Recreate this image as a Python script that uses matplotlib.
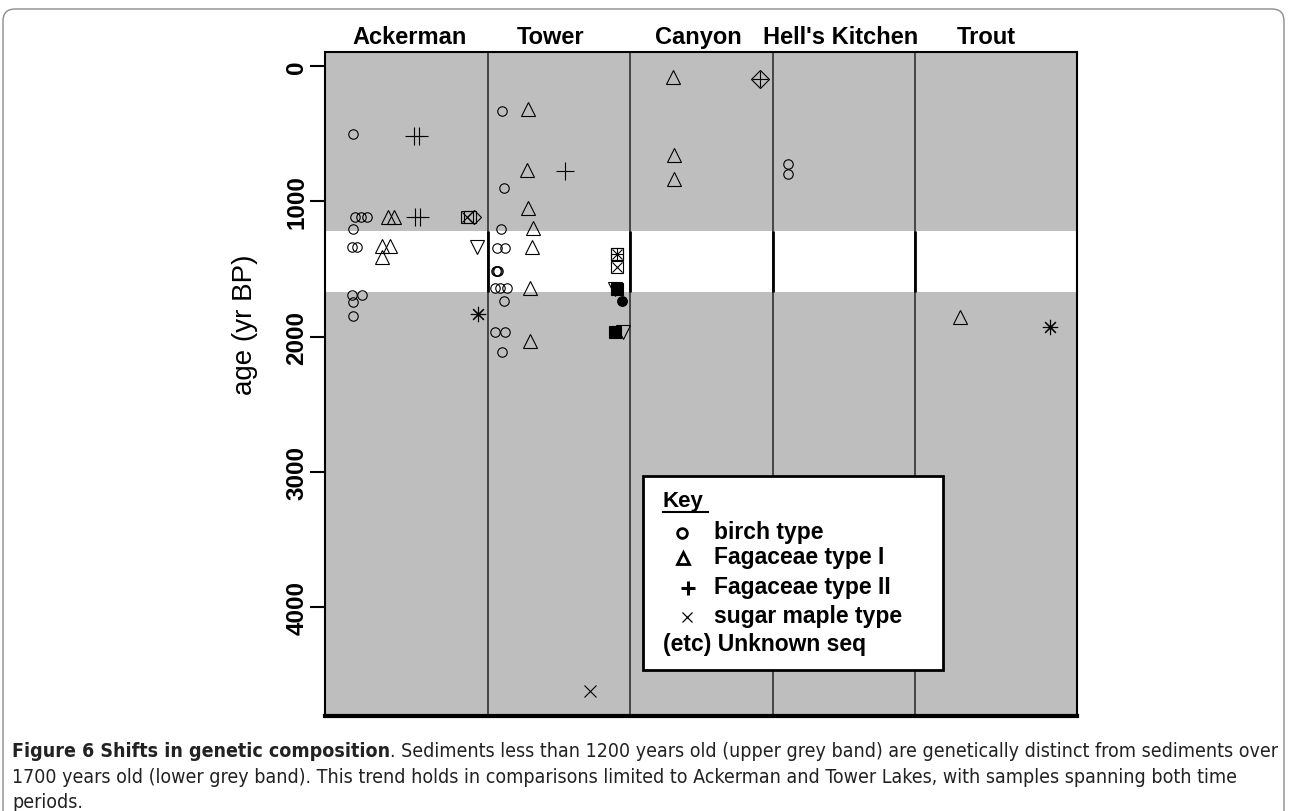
import matplotlib
matplotlib.use('Agg')
import matplotlib.pyplot as plt
import matplotlib.transforms as mtransforms
from matplotlib.patches import Rectangle, FancyBboxPatch
from matplotlib.lines import Line2D

plt.rcParams['font.family'] = ['Liberation Sans', 'DejaVu Sans']

W, H = 1290, 812

#--- data ---#

lakes = ['Ackerman', 'Tower', 'Canyon', "Hell's Kitchen", 'Trout']
lake_label_x = [0.45, 1.44, 2.48, 3.48, 4.50]
lake_edges = [1, 2, 3, 4]
band_ages = [1220, 1670]   # white band between the two grey bands
age_ticks = [0, 1000, 2000, 3000, 4000]

# birch type (open circles)
birch_x = [0.05, 0.065, 0.108, 0.15, 0.05, 0.044, 0.08, 0.044, 0.115, 0.05, 0.05,
           1.098, 1.112, 1.091, 1.063, 1.119, 1.055, 1.063, 1.07, 1.049, 1.084, 1.134,
           1.112, 1.049, 1.119, 1.098,
           3.108, 3.108]
birch_age = [503, 1117, 1117, 1117, 1205, 1340, 1340, 1690, 1690, 1745, 1850,
             330, 903, 1205, 1345, 1345, 1515, 1515, 1515, 1640, 1640, 1640,
             1737, 1966, 1966, 2114,
             724, 798]

# Fagaceae type I (open triangles)
fag1_x = [0.297, 0.339, 0.255, 0.311, 0.255,
          1.281, 1.274, 1.281, 1.316, 1.309, 1.295, 1.295,
          2.30, 2.307, 2.307, 4.317]
fag1_age = [1117, 1117, 1330, 1330, 1412,
            318, 766, 1050, 1200, 1340, 1640, 2032,
            81, 658, 835, 1855]

# Fagaceae type II (plus)
fag2_x = [0.48, 0.515, 0.487, 0.52, 1.541]
fag2_age = [517, 517, 1117, 1117, 780]

# sugar maple type (x)
maple_x = [1.717]
maple_age = [4619]

# unknown sequences, R pch codes
unk_x = [0.852, 0.873, 0.902, 0.923, 0.93,
         1.907, 1.907, 1.907, 1.892, 1.907, 1.942, 1.892, 1.949,
         2.911, 4.949]
unk_age = [1117, 1117, 1117, 1340, 1830,
           1390, 1390, 1487, 1650, 1650, 1737, 1966, 1966,
           96, 1929]
unk_pch = [7, 0, 5, 6, 8,
           7, 12, 7, 6, 15, 16, 15, 6,
           9, 8]

# pch -> list of (marker, fill, size)
pch_style = {
    0: [('s', 'none', 8)],
    5: [('D', 'none', 7)],
    6: [('v', 'none', 10)],
    7: [('s', 'none', 8), ('x', None, 7)],
    8: [((8, 2, 0), None, 11)],
    9: [('D', 'none', 9), ('+', None, 12)],
    12: [('s', 'none', 8), ('+', None, 8)],
    15: [('s', 'black', 8)],
    16: [('o', 'black', 7)],
}


#--- figure ---#

fig = plt.figure(figsize=(W / 100, H / 100), dpi=100)
px = mtransforms.Affine2D().scale(1 / W, -1 / H).translate(0, 1) + fig.transFigure

ax = fig.add_axes([325 / W, 1 - 717 / H, (1077 - 325) / W, (717 - 53) / H])
ax.set_xlim(-0.145, 5.138)
ax.set_ylim(4804, -103)

ax.axhspan(-103, band_ages[0], color='#bebebe', lw=0, zorder=0)
ax.axhspan(band_ages[1], 4804, color='#bebebe', lw=0, zorder=0)
ax.vlines(lake_edges, -103, 4804, color='#3c3c3c', lw=1.3, zorder=1)
ax.vlines(lake_edges, band_ages[0], band_ages[1], color='black', lw=2, zorder=1)

mk = dict(ls='none', mec='black', mew=0.8, zorder=3)
ax.plot(birch_x, birch_age, marker='o', ms=6.8, mfc='none', **mk)
ax.plot(fag1_x, fag1_age, marker='^', ms=10, mfc='none', **mk)
ax.plot(fag2_x, fag2_age, marker='+', ms=13, **mk)
ax.plot(maple_x, maple_age, marker='x', ms=8, **mk)
for x, a, p in zip(unk_x, unk_age, unk_pch):
    for m, fill, s in pch_style[p]:
        if fill is None:
            ax.plot([x], [a], marker=m, ms=s, **mk)
        else:
            ax.plot([x], [a], marker=m, ms=s, mfc=fill, **mk)

for side in ['left', 'top', 'right']:
    ax.spines[side].set_linewidth(1.5)
ax.spines['bottom'].set_linewidth(3)

ax.set_xticks([])
ax.set_yticks(age_ticks)
ax.set_yticklabels([str(t) for t in age_ticks], rotation=90, va='center',
                   fontweight='bold', fontsize=17.5)
ax.tick_params(axis='y', length=11, width=1.5, pad=1)

lab_tr = mtransforms.blended_transform_factory(ax.transData, ax.transAxes)
for name, x in zip(lakes, lake_label_x):
    ax.text(x, 1.024, name, transform=lab_tr, ha='center', va='center',
            fontsize=17, fontweight='bold')

fig.text(245, 325, 'age (yr BP)', transform=px, rotation=90, ha='center',
         va='center', fontsize=20)

#--- key box ---#

fig.add_artist(Rectangle((643, 477), 300, 194, transform=px, fc='white',
                         ec='black', lw=2, zorder=5))
fig.text(663, 502, 'Key', transform=px, ha='left', va='center', fontsize=16,
         fontweight='bold', zorder=6)
fig.add_artist(Line2D([663, 708], [513, 513], transform=px, color='black', lw=1.5, zorder=6))

key_items = [('o', 'birch type', 682, 534, 7, 2.0),
             ('^', 'Fagaceae type I', 683, 559, 8, 2.0),
             ('+', 'Fagaceae type II', 688, 589, 10, 2.2),
             ('x', 'sugar maple type', 687, 618, 7, 0.9)]
for m, label, mx, my, s, w in key_items:
    fig.add_artist(Line2D([mx], [my], transform=px, ls='none', marker=m, ms=s,
                          mfc='none', mec='black', mew=w, zorder=6))
    fig.text(714, my - 1, label, transform=px, ha='left', va='center',
             fontsize=16.5, fontweight='bold', zorder=6)
fig.text(663, 645, '(etc) Unknown seq', transform=px, ha='left', va='center',
         fontsize=16.5, fontweight='bold', zorder=6)

#--- caption ---#

fig.add_artist(FancyBboxPatch((3, 10), 1281, 840, boxstyle='round,pad=0,rounding_size=12',
                              transform=px, fc='none', ec='#8c8c8c', lw=1, zorder=0))

cap_font = ['DejaVu Sans', 'Liberation Sans']
cap_bold = 'Figure 6 Shifts in genetic composition'
cap_rest = ('. Sediments less than 1200 years old (upper grey band) are genetically '
            'distinct from sediments over')
cap_lines = ['1700 years old (lower grey band). This trend holds in comparisons limited '
             'to Ackerman and Tower Lakes, with samples spanning both time',
             'periods.']

r = fig.canvas.get_renderer()
fs = 11
cap_kw = dict(transform=px, ha='left', va='center', family=cap_font,
              stretch='condensed', color='#222222')
tb = fig.text(12, 752, cap_bold, fontsize=fs, fontweight='bold', **cap_kw)
tr = fig.text(12, 752, cap_rest, fontsize=fs, **cap_kw)
wb = tb.get_window_extent(renderer=r).width
wr = tr.get_window_extent(renderer=r).width
fs = fs * 1263 / (wb + wr)
tb.set_fontsize(fs)
tr.set_fontsize(fs)
wb = tb.get_window_extent(renderer=r).width
tr.set_position((12 + wb, 752))
for i, line in enumerate(cap_lines):
    fig.text(12, 778 + 25 * i, line, fontsize=fs, **cap_kw)

fig.savefig('out.png', dpi=100)
